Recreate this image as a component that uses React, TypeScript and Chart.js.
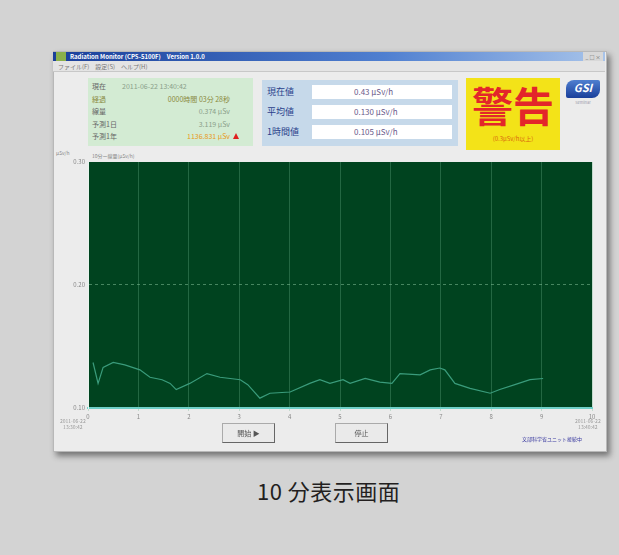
import React, { useEffect, useRef } from "react";
import { Chart, registerables } from "chart.js";

Chart.register(...registerables);

// elapsed minutes of each sample
const minutes = [0.1, 0.2, 0.3, 0.5, 0.73, 1.03, 1.23, 1.47, 1.63, 1.75, 2.02, 2.36, 2.62, 3.02, 3.17, 3.41, 3.61, 4.01, 4.4, 4.6, 4.8, 5.06, 5.2, 5.5, 5.79, 6.03, 6.19, 6.59, 6.79, 6.98, 7.08, 7.28, 7.58, 7.98, 8.17, 8.47, 8.77, 9.03];
// dose rate (µSv/h)
const doseValues = [0.137, 0.12, 0.133, 0.137, 0.135, 0.131, 0.125, 0.123, 0.12, 0.115, 0.12, 0.128, 0.125, 0.123, 0.119, 0.108, 0.112, 0.113, 0.12, 0.123, 0.12, 0.123, 0.12, 0.124, 0.121, 0.12, 0.128, 0.127, 0.131, 0.1325, 0.131, 0.12, 0.116, 0.112, 0.115, 0.119, 0.123, 0.124];
const yTickValues = [0.1, 0.2, 0.3];
const xTickLabels = ["0", "1", "2", "3", "4", "5", "6", "7", "8", "9", "10"];

const infoLabels = ["現在", "経過", "線量", "予測1日", "予測1年"];
const infoValues = ["2011-06-22 13:40:42", "0000時間 03分 28秒", "0.374 µSv", "3.119 µSv", "1136.831 µSv"];
const readLabels = ["現在値", "平均値", "1時間値"];
const readValues = ["0.43  µSv/h", "0.130 µSv/h", "0.105 µSv/h"];

const FONT = "'Noto Sans CJK JP', 'Noto Sans', sans-serif";

const bgPlugin = {
  id: "plotBg",
  beforeDraw(chart: any) {
    const { ctx, chartArea } = chart;
    if (!chartArea) return;
    ctx.save();
    ctx.fillStyle = "#00431f";
    ctx.fillRect(chartArea.left, chartArea.top, chartArea.right - chartArea.left, chartArea.bottom - chartArea.top);
    ctx.restore();
  },
};

function ChartPanel() {
  const ref = useRef<HTMLCanvasElement | null>(null);
  useEffect(() => {
    if (!ref.current) return;
    const chart = new Chart(ref.current, {
      type: "line",
      data: {
        datasets: [
          {
            data: minutes.map((m, i) => ({ x: m, y: doseValues[i] })),
            borderColor: "#3a9c7c",
            borderWidth: 1.2,
            pointRadius: 0,
            tension: 0,
          },
        ],
      },
      plugins: [bgPlugin],
      options: {
        animation: false,
        responsive: false,
        maintainAspectRatio: false,
        layout: { padding: { top: 14, right: 13, left: 0, bottom: 0 } },
        plugins: { legend: { display: false }, tooltip: { enabled: false } },
        scales: {
          x: {
            type: "linear",
            min: 0,
            max: 10,
            afterFit: (s: any) => {
              s.height = 30;
            },
            ticks: {
              stepSize: 1,
              color: "#888",
              font: { size: 6, family: FONT },
              padding: 2,
              maxRotation: 0,
              callback: (v: any) => xTickLabels[Math.round(v)] ?? "",
            },
            grid: { color: "rgba(110,180,140,0.32)", lineWidth: 1, drawTicks: true, tickLength: 3 },
            border: { color: "#6fd0c8", width: 2 },
          },
          y: {
            min: 0.1,
            max: 0.3,
            afterFit: (s: any) => {
              s.width = 33;
            },
            afterBuildTicks: (s: any) => {
              s.ticks = yTickValues.map((v) => ({ value: v }));
            },
            ticks: {
              color: "#888",
              font: { size: 6, family: FONT },
              padding: 3,
              callback: (v: any) => Number(v).toFixed(2),
            },
            grid: {
              color: (c: any) => (c.tick && Math.abs(c.tick.value - 0.2) < 1e-6 ? "rgba(130,190,150,0.55)" : "rgba(0,0,0,0)"),
              lineWidth: 1,
              drawTicks: false,
            },
            border: { color: "#e8f4ee", width: 1, dash: [3, 3] },
          },
        },
      },
    } as any);
    return () => chart.destroy();
  }, []);
  return <canvas ref={ref} width={550} height={290} style={{ position: "absolute", left: 55, top: 148, width: 550, height: 290 }} />;
}

const abs = (l: number, t: number, w?: number, h?: number): React.CSSProperties => ({
  position: "absolute",
  left: l,
  top: t,
  ...(w !== undefined ? { width: w } : {}),
  ...(h !== undefined ? { height: h } : {}),
});

export default function App() {
  return (
    <div style={{ position: "fixed", left: 0, top: 0, width: 619, height: 555, background: "#d3d3d3", fontFamily: FONT, overflow: "hidden" }}>
      {/* window */}
      <div style={{ ...abs(53, 51, 552, 399), background: "#ececec", boxShadow: "3px 4px 6px rgba(0,0,0,0.45)", border: "1px solid #b8b8b8" }} />
      {/* title bar */}
      <div style={{ ...abs(53, 52, 552, 9), background: "linear-gradient(to right, #1a3f9a, #4f7fd0 60%, #a8c4ea)" }} />
      <div style={{ ...abs(56, 52, 10, 9), background: "#8ab04a" }} />
      <div style={{ ...abs(70, 52), fontSize: 6, lineHeight: "9px", color: "#fff", fontWeight: "bold", whiteSpace: "nowrap" }}>
        Radiation Monitor (CPS-5100F)　Version 1.0.0
      </div>
      <div style={{ ...abs(583, 52, 20, 9), background: "#d8d8d8", fontSize: 5, color: "#555", lineHeight: "9px", textAlign: "center" }}>_ □ ×</div>
      {/* menu */}
      <div style={{ ...abs(53, 61, 552, 10), background: "#e4e4e4", borderBottom: "1px solid #c8c8c8" }} />
      <div style={{ ...abs(58, 62), fontSize: 6, color: "#777", whiteSpace: "nowrap", lineHeight: "9px" }}>
        ファイル(F)　設定(S)　ヘルプ(H)
      </div>
      {/* info panel */}
      <div style={{ ...abs(88, 78, 165, 68), background: "#d3ebd3" }} />
      {infoLabels.map((l, i) => (
        <div key={l} style={{ ...abs(92, 82 + i * 12.5), fontSize: 7, color: i === 1 ? "#8a8a40" : "#666", whiteSpace: "nowrap", lineHeight: "9px" }}>
          {l}
        </div>
      ))}
      {infoValues.map((v, i) => (
        <div
          key={v}
          style={{
            ...(i === 0 ? abs(122, 82) : { position: "absolute", right: 619 - 230, top: 82 + i * 12.5 }),
            fontSize: 7,
            color: i === 4 ? "#e89a20" : i === 1 ? "#8a8a40" : "#8aa08a",
            whiteSpace: "nowrap",
            lineHeight: "9px",
          }}
        >
          {v}
        </div>
      ))}
      <div style={{ ...abs(233, 133), width: 0, height: 0, borderLeft: "3.5px solid transparent", borderRight: "3.5px solid transparent", borderBottom: "6px solid #e02020" }} />
      {/* readings panel */}
      <div style={{ ...abs(262, 80, 196, 66), background: "#c6d9ea" }} />
      {readLabels.map((l, i) => (
        <div key={l} style={{ ...abs(267, 86 + i * 20), fontSize: 9, color: "#2a3f8a", whiteSpace: "nowrap", lineHeight: "12px" }}>
          {l}
        </div>
      ))}
      {readValues.map((v, i) => (
        <div
          key={v}
          style={{ ...abs(312, 85 + i * 20, 140, 14), background: "#fff", fontSize: 8, color: "#6a5a8a", lineHeight: "14px", paddingLeft: 42, boxSizing: "border-box", whiteSpace: "nowrap" }}
        >
          {v}
        </div>
      ))}
      {/* warning */}
      <div style={{ ...abs(466, 78, 94, 72), background: "#f3e318" }} />
      <div style={{ ...abs(466, 76, 94), textAlign: "center", fontSize: 41, fontWeight: "bold", color: "#e3262a", lineHeight: "56px", letterSpacing: 0 }}>警告</div>
      <div style={{ ...abs(466, 134, 94), textAlign: "center", fontSize: 6, color: "#d96a10", lineHeight: "9px" }}>(0.3µSv/h以上)</div>
      {/* logo */}
      <div style={{ ...abs(566, 80, 34, 18), background: "linear-gradient(#4f7fd0, #1a3f9a)", borderRadius: "8px 2px 8px 2px" }} />
      <div style={{ ...abs(566, 79, 34), textAlign: "center", fontSize: 11, fontStyle: "italic", fontWeight: "bold", color: "#fff", lineHeight: "16px" }}>GSI</div>
      <div style={{ ...abs(566, 99, 34), textAlign: "center", fontSize: 4, color: "#99a", lineHeight: "6px" }}>Seminar</div>
      {/* chart captions */}
      <div style={{ ...abs(56, 149), fontSize: 5, color: "#888", whiteSpace: "nowrap", lineHeight: "7px" }}>µSv/h</div>
      <div style={{ ...abs(92, 152), fontSize: 5, color: "#888", whiteSpace: "nowrap", lineHeight: "7px" }}>10分ー線量(µSv/h)</div>
      <ChartPanel />
      <div style={{ ...abs(60, 418), fontSize: 5, color: "#999", lineHeight: "6px", textAlign: "center", whiteSpace: "nowrap" }}>
        2011-06-22
        <br />
        13:30:42
      </div>
      <div style={{ ...abs(575, 418), fontSize: 5, color: "#999", lineHeight: "6px", textAlign: "center", whiteSpace: "nowrap" }}>
        2011-06-22
        <br />
        13:40:42
      </div>
      {/* buttons */}
      <div style={{ ...abs(222, 423, 53, 20), background: "#eaeaea", border: "1px solid #aaa", borderRightColor: "#666", borderBottomColor: "#666", boxSizing: "border-box", fontSize: 7, color: "#555", textAlign: "center", lineHeight: "18px" }}>
        開始 ▶
      </div>
      <div style={{ ...abs(335, 423, 53, 20), background: "#eaeaea", border: "1px solid #aaa", borderRightColor: "#666", borderBottomColor: "#666", boxSizing: "border-box", fontSize: 7, color: "#555", textAlign: "center", lineHeight: "18px" }}>
        停止
      </div>
      <div style={{ ...abs(522, 435), fontSize: 5, color: "#3a3aa0", whiteSpace: "nowrap", lineHeight: "7px" }}>文部科学省ユニット接続中</div>
      {/* caption */}
      <div style={{ ...abs(257, 476), whiteSpace: "nowrap", fontSize: 22, color: "#231f1f", lineHeight: "28px", fontFamily: "'Noto Sans CJK JP', sans-serif", letterSpacing: 0.5 }}>
        10 分表示画面
      </div>
    </div>
  );
}
